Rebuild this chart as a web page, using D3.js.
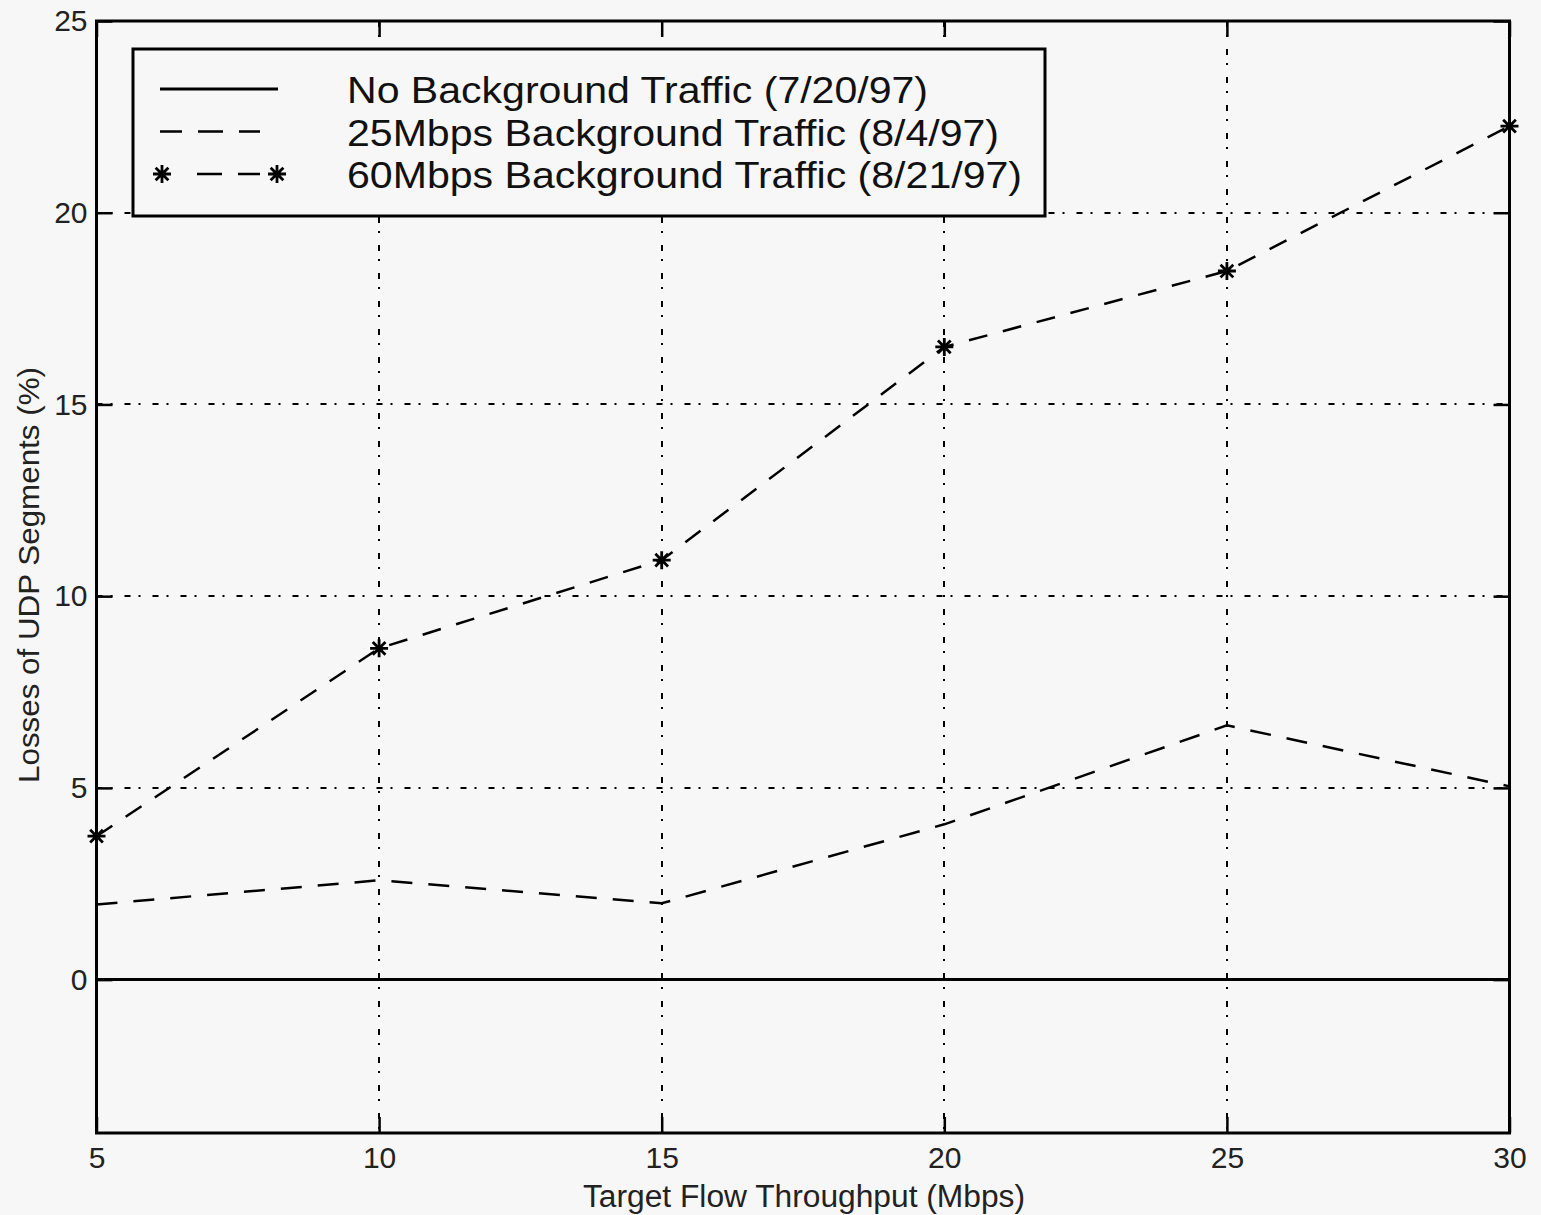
<!DOCTYPE html>
<html>
<head>
<meta charset="utf-8">
<script src="https://cdn.jsdelivr.net/npm/d3@7"></script>
<style>
  html, body { margin: 0; padding: 0; background: #f7f7f7; }
  svg { display: block; }
  text { font-family: "Liberation Sans", Arial, Helvetica, sans-serif; }
</style>
</head>
<body>
<svg id="chart" width="1541" height="1215"></svg>
<script>
// Target flow throughput (Mbps) at which each run was measured
const throughput = [5, 10, 15, 20, 25, 30];

// UDP segment losses (%) for each background-traffic scenario
const lossNoBackground = [0, 0, 0, 0, 0, 0];
const loss25Mbps = [1.96, 2.59, 1.99, 4.05, 6.63, 5.04];
const loss60Mbps = [3.74, 8.64, 10.94, 16.5, 18.48, 22.26];

const seriesNames = [
  "No Background Traffic (7/20/97)",
  "25Mbps Background Traffic (8/4/97)",
  "60Mbps Background Traffic (8/21/97)"
];

const xTicks = [5, 10, 15, 20, 25, 30];
const yTicks = [0, 5, 10, 15, 20, 25];

const xTitle = "Target Flow Throughput (Mbps)";
const yTitle = "Losses of UDP Segments (%)";

(function draw() {
  const svg = d3.select("#chart");
  const plotL = 96.5, plotR = 1509.5, plotT = 21, plotB = 1133;

  const x = d3.scaleLinear().domain([5, 30]).range([plotL, plotR]);
  const y = d3.scaleLinear().domain([-4, 25]).range([plotB, plotT]);

  svg.append("rect").attr("width", 1541).attr("height", 1215).attr("fill", "#f7f7f7");

  // dotted grid
  const grid = svg.append("g").attr("stroke", "#000").attr("stroke-width", 2)
    .attr("stroke-dasharray", "6,8,2,12").attr("fill", "none");
  grid.selectAll("line.v").data(xTicks.filter(d => d > 5 && d < 30)).join("line")
    .attr("class", "v")
    .attr("x1", d => Math.round(x(d))).attr("x2", d => Math.round(x(d)))
    .attr("y1", plotT).attr("y2", plotB);
  grid.selectAll("line.h").data(yTicks.filter(d => d > 0 && d < 25)).join("line")
    .attr("class", "h")
    .attr("y1", d => Math.round(y(d))).attr("y2", d => Math.round(y(d)))
    .attr("x1", plotL).attr("x2", plotR);

  // series
  const rows = [
    { name: seriesNames[0], values: lossNoBackground, dash: null, width: 3, marker: false, len: 581 },
    { name: seriesNames[1], values: loss25Mbps, dash: "21,16", width: 2.5, marker: false, len: 652 },
    { name: seriesNames[2], values: loss60Mbps, dash: "19,16", width: 2.5, marker: true, len: 675 }
  ];

  const line = d3.line().x(d => x(d[0])).y(d => y(d[1]));

  rows.forEach(r => {
    const pts = throughput.map((t, i) => [t, r.values[i]]);
    svg.append("path")
      .attr("d", line(pts))
      .attr("fill", "none")
      .attr("stroke", "#000")
      .attr("stroke-width", r.width)
      .attr("stroke-dasharray", r.dash);
  });

  // asterisk marker path
  function star(s) {
    const d = s * 0.7071;
    return `M${-s},0L${s},0M0,${-s}L0,${s}M${-d},${-d}L${d},${d}M${-d},${d}L${d},${-d}`;
  }

  svg.append("g").selectAll("path")
    .data(throughput.map((t, i) => [t, loss60Mbps[i]])).join("path")
    .attr("transform", d => `translate(${x(d[0])},${y(d[1])})`)
    .attr("d", star(9))
    .attr("stroke", "#000").attr("stroke-width", 2.8).attr("fill", "none");

  // axes, ticks drawn inward on every side
  const axB = svg.append("g").attr("transform", `translate(0,${plotB})`)
    .call(d3.axisBottom(x).tickValues(xTicks).tickSize(-16).tickPadding(14).tickFormat(d3.format("d")));
  const axL = svg.append("g").attr("transform", `translate(${plotL},0)`)
    .call(d3.axisLeft(y).tickValues(yTicks).tickSize(-16).tickPadding(9).tickFormat(d3.format("d")));
  const axT = svg.append("g").attr("transform", `translate(0,${plotT})`)
    .call(d3.axisTop(x).tickValues(xTicks).tickSize(-16).tickFormat(""));
  const axR = svg.append("g").attr("transform", `translate(${plotR},0)`)
    .call(d3.axisRight(y).tickValues(yTicks).tickSize(-16).tickFormat(""));

  [axB, axL, axT, axR].forEach(a => {
    a.select(".domain").remove();
    a.selectAll(".tick line").attr("stroke", "#000").attr("stroke-width", 2.5);
    a.selectAll("text")
      .attr("font-size", 30).attr("fill", "#222")
      .attr("font-family", "Liberation Sans, Arial, sans-serif");
  });

  // frame
  svg.append("rect")
    .attr("x", plotL).attr("y", plotT)
    .attr("width", plotR - plotL).attr("height", plotB - plotT)
    .attr("fill", "none").attr("stroke", "#000").attr("stroke-width", 3);

  // axis titles
  svg.append("text")
    .attr("x", 804).attr("y", 1207)
    .attr("text-anchor", "middle").attr("font-size", 31).attr("fill", "#222")
    .attr("textLength", 442).attr("lengthAdjust", "spacingAndGlyphs")
    .text(xTitle);

  svg.append("text")
    .attr("transform", "translate(39,575) rotate(-90)")
    .attr("text-anchor", "middle").attr("font-size", 30).attr("fill", "#222")
    .attr("textLength", 416).attr("lengthAdjust", "spacingAndGlyphs")
    .text(yTitle);

  // legend
  const lg = svg.append("g");
  lg.append("rect")
    .attr("x", 133).attr("y", 49).attr("width", 912).attr("height", 167)
    .attr("fill", "#f7f7f7").attr("stroke", "#000").attr("stroke-width", 3);

  const rowY = [89, 131.5, 174];
  const sampleDash = ["", "22,16,25,16,21,100", "0,37,25,16,22,100"];
  rows.forEach((r, i) => {
    lg.append("line")
      .attr("x1", 160).attr("x2", 278)
      .attr("y1", rowY[i]).attr("y2", rowY[i])
      .attr("stroke", "#000").attr("stroke-width", r.width)
      .attr("stroke-dasharray", sampleDash[i] || null);
    if (r.marker) {
      [162, 277].forEach(px => lg.append("path")
        .attr("transform", `translate(${px},${rowY[i]})`)
        .attr("d", star(9))
        .attr("stroke", "#000").attr("stroke-width", 2.8).attr("fill", "none"));
    }
    lg.append("text")
      .attr("x", 347).attr("y", rowY[i] + 14)
      .attr("font-size", 37).attr("fill", "#111")
      .attr("textLength", r.len).attr("lengthAdjust", "spacingAndGlyphs")
      .text(r.name);
  });
})();
</script>
</body>
</html>
